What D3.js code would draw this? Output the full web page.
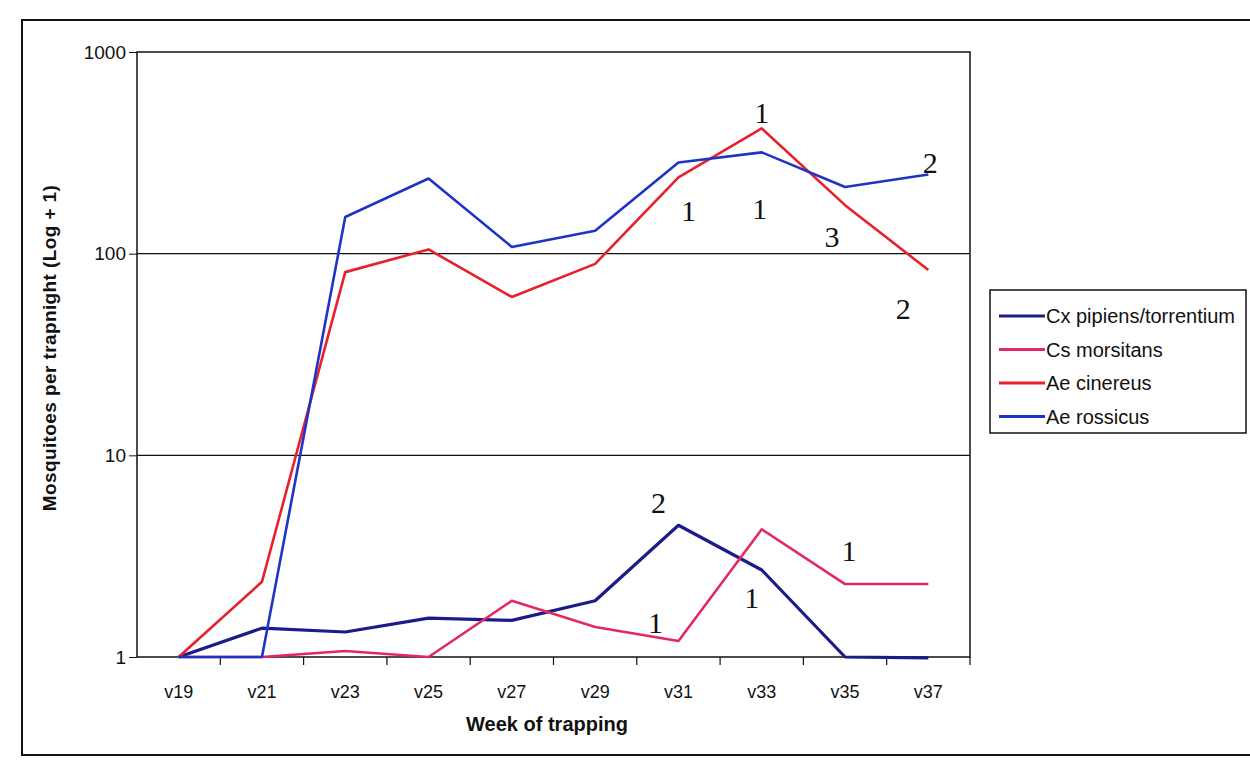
<!DOCTYPE html>
<html>
<head>
<meta charset="utf-8">
<script src="https://d3js.org/d3.v7.min.js"></script>
<style>
  body { margin: 0; background: #fff; }
  svg { display: block; font-family: Arial, "Liberation Sans", sans-serif; }
  .annot { font-family: "Liberation Serif", "DejaVu Serif", serif; font-size: 30px; fill: #111; }
</style>
</head>
<body>
<svg id="chart" width="1250" height="767"></svg>
<script>
// weeks of trapping
const weeks = ['v19', 'v21', 'v23', 'v25', 'v27', 'v29', 'v31', 'v33', 'v35', 'v37'];
const yTicks = [1, 10, 100, 1000];

// mosquitoes per trapnight (log + 1)
const cxPipiens  = [1, 1.39, 1.33, 1.56, 1.52, 1.9, 4.5, 2.7, 1, 0.99];
const csMorsitans = [1, 1, 1.07, 1, 1.9, 1.41, 1.2, 4.3, 2.3, 2.3];
const aeCinereus = [1, 2.36, 81, 105, 61, 89, 239, 418, 174, 83];
const aeRossicus = [1, 1, 152, 236, 108, 130, 283, 318, 214, 247];

const seriesNames = ['Cx pipiens/torrentium', 'Cs morsitans', 'Ae cinereus', 'Ae rossicus'];
const seriesColors = ['#1c1c88', '#e22a60', '#e8202c', '#1f34c4'];

// hand-written counts on the figure
const annotations = [
    {week: 'v33', value: 443, text: '1', dx: 0},
    {week: 'v37', value: 250, text: '2', dx: 2},
    {week: 'v31', value: 146, text: '1', dx: 10},
    {week: 'v33', value: 148, text: '1', dx: -2},
    {week: 'v35', value: 108, text: '3', dx: -13},
    {week: 'v37', value: 47.5, text: '2', dx: -25},
    {week: 'v31', value: 5.2, text: '2', dx: -20},
    {week: 'v35', value: 3.0, text: '1', dx: 4},
    {week: 'v33', value: 1.75, text: '1', dx: -10},
    {week: 'v31', value: 1.31, text: '1', dx: -23}
];

const svg = d3.select('#chart');
const plot = {left: 137, right: 970, top: 52, bottom: 657};

const x = d3.scaleBand().domain(weeks).range([plot.left, plot.right]);
const y = d3.scaleLog().domain([1, 1000]).range([plot.bottom, plot.top]);

// outer frame
svg.append('rect')
    .attr('x', 22).attr('y', 20)
    .attr('width', 1260).attr('height', 735)
    .attr('fill', 'none').attr('stroke', '#111').attr('stroke-width', 2);

// gridlines
svg.append('g')
    .selectAll('line')
    .data([10, 100])
    .join('line')
    .attr('x1', plot.left).attr('x2', plot.right)
    .attr('y1', d => y(d)).attr('y2', d => y(d))
    .attr('stroke', '#111').attr('stroke-width', 1.2);

// plot border
svg.append('rect')
    .attr('x', plot.left).attr('y', plot.top)
    .attr('width', plot.right - plot.left).attr('height', plot.bottom - plot.top)
    .attr('fill', 'none').attr('stroke', '#111').attr('stroke-width', 1.5);

// y axis
const yAxis = svg.append('g')
    .attr('transform', `translate(${plot.left},0)`)
    .call(d3.axisLeft(y).tickValues(yTicks).tickFormat(d3.format('d')).tickSize(8).tickPadding(3));
yAxis.attr('font-size', 19).attr('font-family', 'Arial, "Liberation Sans", sans-serif');
yAxis.select('.domain').remove();
yAxis.selectAll('.tick line').attr('stroke', '#111');
yAxis.selectAll('.tick text').attr('fill', '#111');

// x axis: labels at band centres, ticks at band edges
const xAxis = svg.append('g')
    .attr('transform', `translate(0,${plot.bottom})`)
    .call(d3.axisBottom(x).tickSize(0).tickPadding(28));
xAxis.attr('font-size', 18).attr('font-family', 'Arial, "Liberation Sans", sans-serif');
xAxis.select('.domain').remove();
xAxis.selectAll('.tick text').attr('fill', '#111');

svg.append('g')
    .selectAll('line')
    .data(weeks)
    .join('line')
    .attr('x1', d => x(d) + x.bandwidth()).attr('x2', d => x(d) + x.bandwidth())
    .attr('y1', plot.bottom).attr('y2', plot.bottom + 8)
    .attr('stroke', '#111').attr('stroke-width', 1.2);

// axis titles
svg.append('text')
    .attr('x', 547).attr('y', 731)
    .attr('text-anchor', 'middle')
    .attr('font-size', 20).attr('font-weight', 'bold')
    .attr('fill', '#111')
    .text('Week of trapping');

svg.append('text')
    .attr('transform', 'translate(56,348) rotate(-90)')
    .attr('text-anchor', 'middle')
    .attr('font-size', 19).attr('font-weight', 'bold')
    .attr('letter-spacing', 0.4)
    .attr('fill', '#111')
    .text('Mosquitoes per trapnight (Log + 1)');

// lines
const seriesData = [cxPipiens, csMorsitans, aeCinereus, aeRossicus];
const line = d3.line()
    .x((d, i) => x(weeks[i]) + x.bandwidth() / 2)
    .y(d => y(d));

svg.append('g')
    .selectAll('path')
    .data(seriesData)
    .join('path')
    .attr('d', line)
    .attr('fill', 'none')
    .attr('stroke', (d, i) => seriesColors[i])
    .attr('stroke-width', (d, i) => i === 0 ? 3.2 : 2.6)
    .attr('stroke-linejoin', 'round');

// annotations
svg.append('g')
    .selectAll('text')
    .data(annotations)
    .join('text')
    .attr('class', 'annot')
    .attr('x', d => x(d.week) + x.bandwidth() / 2 + d.dx)
    .attr('y', d => y(d.value))
    .attr('text-anchor', 'middle')
    .text(d => d.text);

// legend
const legend = svg.append('g').attr('transform', 'translate(990,290)');
legend.append('rect')
    .attr('width', 256).attr('height', 143)
    .attr('fill', '#fff').attr('stroke', '#111').attr('stroke-width', 1.5);

const items = legend.selectAll('g.item')
    .data(seriesNames)
    .join('g')
    .attr('class', 'item')
    .attr('transform', (d, i) => `translate(0,${26 + i * 33.5})`);
items.append('line')
    .attr('x1', 9).attr('x2', 55)
    .attr('stroke', (d, i) => seriesColors[i])
    .attr('stroke-width', 3);
items.append('text')
    .attr('x', 56).attr('y', 7)
    .attr('font-size', 20)
    .attr('fill', '#111')
    .text(d => d);
</script>
</body>
</html>
